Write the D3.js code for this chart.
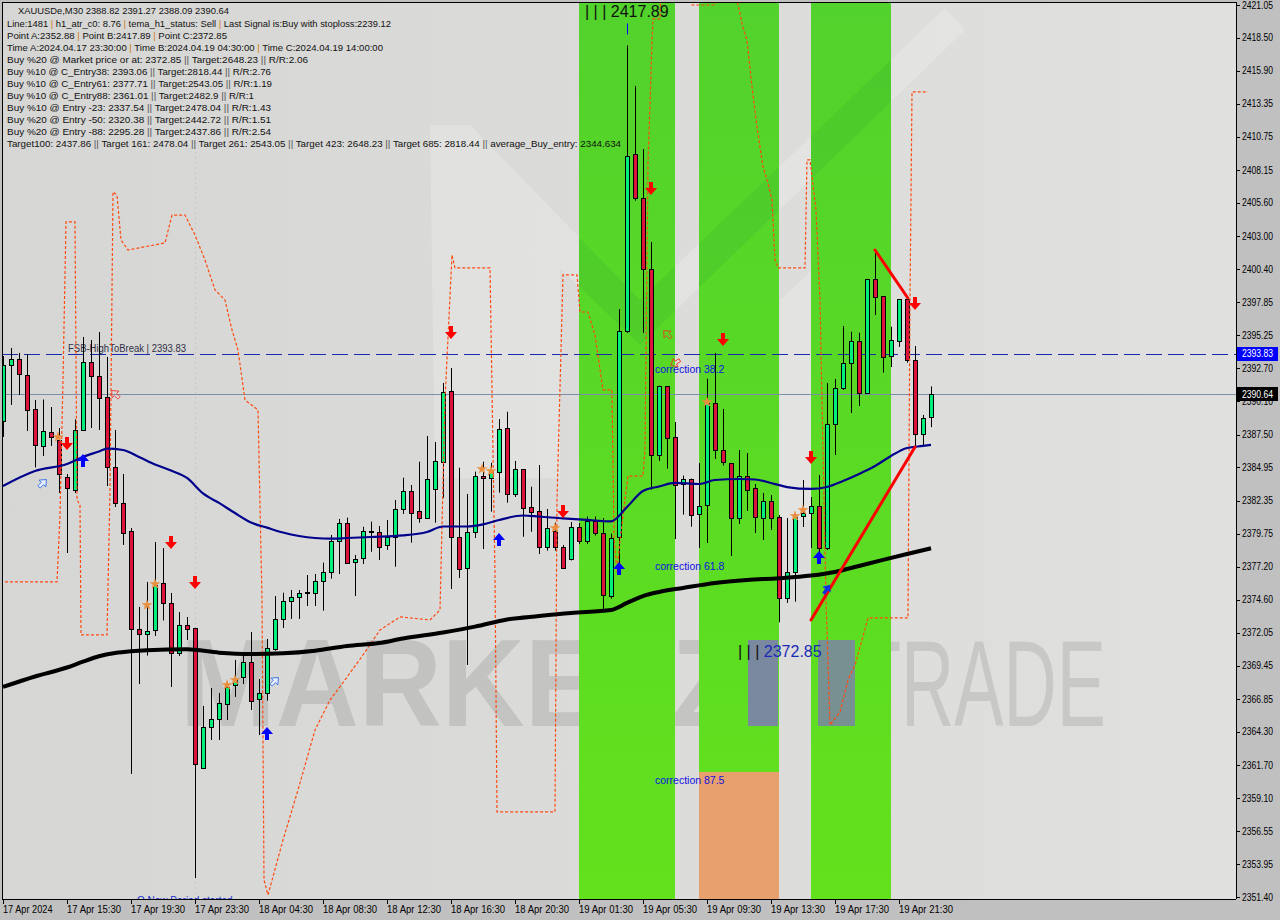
<!DOCTYPE html>
<html><head><meta charset="utf-8"><title>XAUUSDe M30</title>
<script src="https://cdn.jsdelivr.net/npm/d3@7/dist/d3.min.js"></script>
<style>html,body{margin:0;padding:0;background:#c0c0c0;}svg{display:block;}</style>
</head><body>
<svg id="chart" width="1280" height="920"></svg>
<script>
// ================= DATA =================
const timeLabels = ["17 Apr 2024","17 Apr 15:30","17 Apr 19:30","17 Apr 23:30","18 Apr 04:30","18 Apr 08:30","18 Apr 12:30","18 Apr 16:30","18 Apr 20:30","19 Apr 01:30","19 Apr 05:30","19 Apr 09:30","19 Apr 13:30","19 Apr 17:30","19 Apr 21:30"];
const timeLabelIndex = [0,8,16,24,32,40,48,56,64,72,80,88,96,104,112];
const priceTicks = [2421.05,2418.50,2415.90,2413.35,2410.75,2408.15,2405.60,2403.00,2400.40,2397.85,2395.25,2392.70,2390.10,2387.50,2384.95,2382.35,2379.75,2377.20,2374.60,2372.05,2369.45,2366.85,2364.30,2361.70,2359.10,2356.55,2353.95,2351.40];

const opens  = [2388.57,2392.94,2393.37,2392.16,2389.51,2386.58,2387.71,2387.05,2384.22,2383.21,2387.92,2393.21,2392.11,2390.44,2384.94,2382.17,2379.98,2372.36,2371.94,2372.20,2375.92,2374.36,2370.45,2372.60,2372.41,2361.53,2364.70,2365.30,2366.47,2367.96,2368.58,2369.77,2366.86,2367.33,2370.77,2373.11,2374.51,2374.83,2375.14,2375.14,2376.08,2376.78,2379.20,2380.60,2377.56,2377.87,2380.00,2379.92,2378.89,2379.53,2381.70,2383.10,2381.54,2381.00,2383.26,2385.39,2390.91,2379.51,2377.09,2379.90,2384.27,2384.12,2384.61,2388.02,2382.87,2384.82,2381.85,2381.56,2378.73,2380.00,2378.73,2377.83,2380.31,2379.18,2380.73,2379.86,2374.98,2379.53,2395.60,2409.42,2405.98,2400.44,2385.91,2391.27,2387.32,2383.65,2384.07,2381.31,2382.01,2389.99,2386.30,2385.29,2381.00,2384.27,2383.30,2381.05,2382.35,2381.10,2374.75,2376.72,2381.17,2381.41,2381.93,2378.65,2388.33,2391.15,2393.10,2394.82,2390.78,2399.66,2398.33,2393.64,2394.84,2398.09,2393.33,2387.55,2388.82];
const highs  = [2393.64,2394.27,2393.88,2393.80,2390.21,2390.25,2389.66,2388.02,2384.43,2388.69,2395.13,2394.89,2395.52,2393.57,2387.87,2384.43,2380.21,2374.05,2376.00,2379.12,2378.65,2375.14,2373.65,2373.26,2372.41,2366.32,2367.72,2367.33,2368.21,2369.91,2370.48,2372.09,2368.42,2371.55,2374.90,2375.16,2375.37,2375.37,2376.54,2376.62,2377.51,2379.67,2380.92,2381.02,2378.11,2380.31,2380.71,2380.37,2380.84,2382.40,2384.14,2383.57,2385.39,2387.40,2386.93,2391.54,2392.71,2384.92,2382.87,2384.61,2385.39,2385.31,2388.72,2389.29,2385.45,2384.82,2383.44,2385.13,2381.70,2380.63,2378.89,2380.68,2380.60,2381.11,2381.11,2380.99,2379.77,2397.31,2417.89,2414.73,2409.81,2402.54,2391.33,2391.30,2388.49,2384.31,2384.07,2385.29,2391.87,2393.88,2389.51,2385.29,2386.30,2386.07,2383.65,2382.95,2382.79,2381.23,2380.99,2381.38,2383.96,2382.63,2384.35,2391.54,2391.85,2395.99,2395.54,2395.46,2399.66,2401.92,2398.33,2395.93,2398.09,2398.09,2394.42,2389.04,2391.27];
const lows   = [2387.32,2389.82,2390.60,2387.79,2384.94,2385.84,2386.62,2382.95,2378.26,2382.95,2387.86,2388.02,2387.87,2383.49,2381.85,2378.89,2361.01,2368.03,2370.25,2371.78,2372.99,2367.80,2370.22,2371.47,2352.88,2361.47,2363.66,2363.66,2365.22,2367.02,2368.03,2366.00,2364.05,2366.73,2370.63,2372.41,2373.11,2373.11,2374.12,2374.12,2373.76,2376.26,2376.62,2377.48,2374.90,2377.40,2378.36,2377.72,2378.50,2377.19,2381.31,2379.07,2380.63,2380.92,2380.63,2382.56,2375.45,2376.31,2369.52,2379.43,2378.57,2381.49,2382.97,2382.19,2382.63,2379.53,2379.92,2378.18,2378.44,2378.44,2377.01,2377.68,2378.96,2378.96,2379.62,2373.85,2374.69,2376.78,2395.45,2405.77,2395.44,2383.20,2385.45,2384.85,2379.35,2381.26,2380.31,2378.65,2379.04,2385.60,2385.09,2378.03,2380.53,2381.54,2379.82,2379.28,2380.06,2372.85,2374.36,2374.46,2380.29,2378.65,2378.26,2378.50,2385.91,2390.99,2389.19,2389.74,2390.76,2396.84,2392.34,2392.78,2394.35,2393.12,2386.62,2386.62,2388.09];
const closes = [2392.94,2393.37,2392.16,2389.43,2386.70,2387.79,2387.32,2384.43,2383.34,2387.90,2393.21,2392.11,2390.39,2384.94,2382.11,2379.82,2372.36,2371.94,2372.17,2375.73,2374.36,2370.42,2372.61,2372.31,2361.79,2364.70,2365.30,2366.55,2367.82,2368.42,2369.77,2366.73,2367.33,2370.84,2373.11,2374.51,2374.83,2375.14,2375.20,2376.08,2376.78,2379.20,2380.60,2377.51,2377.82,2380.00,2379.92,2378.75,2379.53,2381.70,2383.10,2381.41,2381.00,2384.04,2385.45,2390.83,2379.53,2377.01,2379.90,2384.27,2384.12,2384.61,2387.94,2382.87,2384.82,2381.78,2381.49,2378.73,2380.21,2378.73,2377.11,2380.31,2379.23,2380.73,2379.82,2374.98,2379.47,2395.60,2409.29,2405.98,2400.44,2385.91,2391.33,2387.24,2383.59,2384.04,2381.26,2381.93,2389.99,2386.30,2385.37,2381.00,2384.31,2383.18,2381.03,2382.35,2381.05,2374.75,2376.80,2381.05,2381.41,2381.93,2378.65,2388.33,2391.15,2393.10,2394.82,2390.78,2399.66,2398.25,2393.59,2394.89,2398.09,2393.33,2387.55,2388.80,2390.64];

// moving averages read at bar indices [index, price]
const blueMA = [[0,2383.49],[4,2384.66],[8,2385.21],[10,2385.76],[12,2386.19],[13,2386.41],[15,2386.30],[17,2385.76],[19,2385.17],[21,2384.70],[23,2384.12],[25,2382.91],[27,2382.17],[29,2381.38],[31,2380.64],[33,2380.24],[35,2379.86],[37,2379.59],[39,2379.43],[41,2379.38],[43,2379.43],[46,2379.51],[50,2379.63],[53,2379.90],[55,2380.33],[58,2380.33],[60,2380.49],[62,2380.84],[65,2381.19],[67,2381.11],[70,2380.96],[73,2380.84],[76,2380.73],[78,2381.85],[80,2383.10],[82,2383.45],[84,2383.73],[87,2383.65],[89,2383.96],[92,2384.04],[94,2384.00],[96,2383.73],[98,2383.41],[101,2383.26],[103,2383.41],[105,2383.88],[107,2384.43],[109,2385.05],[111,2385.84],[113,2386.46],[115,2386.62],[116,2386.70]];
const blackMA = [[0,2367.80],[4,2368.62],[8,2369.32],[10,2369.78],[12,2370.20],[14,2370.45],[16,2370.59],[18,2370.67],[23,2370.74],[27,2370.48],[31,2370.38],[35,2370.43],[39,2370.63],[43,2371.00],[47,2371.23],[50,2371.59],[55,2372.06],[59,2372.51],[63,2373.07],[67,2373.34],[71,2373.58],[76,2373.81],[78,2374.36],[80,2374.90],[82,2375.22],[85,2375.53],[89,2375.92],[93,2376.15],[97,2376.29],[101,2376.50],[104,2376.78],[107,2377.25],[110,2377.72],[113,2378.18],[116,2378.63]];
// dashed orange stop line [index, price]
const stopLine = [[-0.375,2376.00],[6.75,2376.00],[7.125,2381.23],[7.5,2391.77],[7.875,2404.11],[9.0,2404.11],[9.25,2382.40],[9.625,2382.01],[9.75,2371.86],[13.0,2371.86],[13.375,2383.18],[13.75,2406.45],[14.25,2406.21],[14.75,2402.70],[15.625,2401.92],[20.25,2402.47],[21.125,2404.65],[22.75,2404.65],[24.0,2403.09],[25.25,2401.14],[26.5,2398.80],[27.75,2398.02],[28.625,2395.67],[29.375,2394.11],[30.25,2390.21],[31.875,2389.43],[32.375,2374.59],[32.625,2352.73],[33.125,2351.56],[35.0,2355.85],[36.875,2359.76],[39.0,2364.44],[40.875,2366.78],[42.75,2368.35],[45.0,2370.30],[47.125,2372.25],[49.625,2373.27],[53.375,2373.03],[54.625,2373.81],[55.25,2390.21],[56.125,2401.53],[56.5,2400.52],[60.875,2400.52],[61.5,2376.54],[61.75,2358.04],[69.0,2358.04],[69.25,2382.40],[70.0,2399.97],[71.75,2399.97],[72.125,2397.08],[73.125,2397.08],[74.0,2395.28],[75.0,2391.00],[76.125,2391.00],[76.375,2379.51],[76.75,2376.78],[77.125,2379.28],[78.125,2384.27],[80.0,2384.27],[80.25,2386.38],[80.625,2408.79],[80.875,2413.24],[81.125,2418.32],[81.25,2419.96],[82.125,2419.96],[82.25,2422.61],[85.875,2422.61],[86.125,2421.05],[89.0,2421.05],[89.125,2422.61],[91.5,2422.61],[91.75,2421.44],[92.5,2419.25],[93.0,2418.32],[93.625,2414.65],[94.25,2411.52],[95.0,2408.40],[95.625,2407.15],[96.125,2405.82],[96.5,2401.14],[96.875,2400.52],[100.25,2400.52],[100.5,2408.95],[100.875,2408.95],[101.625,2405.04],[102.125,2398.02],[102.5,2386.30],[102.875,2374.59],[103.375,2364.83],[104.625,2365.85],[105.625,2368.35],[106.5,2369.52],[107.375,2371.47],[108.125,2373.19],[113.125,2373.19],[113.375,2398.02],[113.625,2414.26],[115.625,2414.26]];

const zones = [[72,84],[87,97],[101,111]];
const pointA = 2352.88, pointB = 2417.89, pointC = 2372.85;
const pointBIndex = 78, pointCIndex = 97;
const corrLabels = ["correction 38.2","correction 61.8","correction 87.5"];
const corrPrices = [2393.06, 2377.71, 2361.01];
const highToBreak = 2393.83, lastPrice = 2390.64;
const triangleLines = [[[109,2401.92],[113.1,2398.17]],[[101,2373.03],[114,2386.54]]];
const downArrows = [[8,2386.77],[21,2379.04],[24,2375.92],[56,2395.44],[70,2381.46],[81,2406.68],[90,2394.89],[101,2385.68],[114,2397.70]];
const upArrows = [[10,2385.52],[33,2364.21],[62,2379.36],[77,2377.09],[102,2377.95]];
const hollowUp = [[5,2383.73],[34,2368.27]];
const tiltedUp = [[103,2375.45]];
const hollowDown = [[14,2390.68],[83,2395.36],[84,2393.10]];
const stars = [[6.875,2387.32],[18,2374.20],[19,2375.84],[28,2367.95],[29,2368.35],[59.875,2384.82],[61,2384.66],[69,2380.21],[88,2390.05],[99,2381.15],[100,2381.62]];

const infoLines = [
"XAUUSDe,M30  2388.82 2391.27 2388.09 2390.64",
"Line:1481 | h1_atr_c0: 8.76 | tema_h1_status: Sell | Last Signal is:Buy with stoploss:2239.12",
"Point A:2352.88 | Point B:2417.89 | Point C:2372.85",
"Time A:2024.04.17 23:30:00 | Time B:2024.04.19 04:30:00 | Time C:2024.04.19 14:00:00",
"Buy %20 @ Market price or at: 2372.85 || Target:2648.23 || R/R:2.06",
"Buy %10 @ C_Entry38: 2393.06 || Target:2818.44 || R/R:2.76",
"Buy %10 @ C_Entry61: 2377.71 || Target:2543.05 || R/R:1.19",
"Buy %10 @ C_Entry88: 2361.01 || Target:2482.9 || R/R:1",
"Buy %10 @ Entry -23: 2337.54 || Target:2478.04 || R/R:1.43",
"Buy %20 @ Entry -50: 2320.38 || Target:2442.72 || R/R:1.51",
"Buy %20 @ Entry -88: 2295.28 || Target:2437.86 || R/R:2.54",
"Target100: 2437.86 || Target 161: 2478.04 || Target 261: 2543.05 || Target 423: 2648.23 || Target 685: 2818.44 || average_Buy_entry: 2344.634"
];

// ================= LAYOUT =================
const FONT = "'Liberation Sans', Arial, sans-serif";
const infoWidths = [211,384,220,376,301,264,265,247,264,264,264,614];
const PL = 2, PR = 1236, PT = 2, PB = 899;

const svg = d3.select('#chart');
const x = d3.scaleLinear().domain([0,116]).range([3,931]);
const y = d3.scaleLinear().domain([2351.40,2421.05]).range([897,5]);

svg.append('rect').attr('width',1280).attr('height',920).attr('fill','#c0c0c0');
const defs = svg.append('defs');
defs.append('clipPath').attr('id','plotClip').append('rect')
  .attr('x',PL).attr('y',PT).attr('width',PR-PL).attr('height',PB-PT);
const gg = defs.append('linearGradient').attr('id','zoneGrad').attr('x1',0).attr('y1',0).attr('x2',0).attr('y2',1);
gg.append('stop').attr('offset','0%').attr('stop-color','#52d22c');
gg.append('stop').attr('offset','100%').attr('stop-color','#62e21c');
const bg = defs.append('linearGradient').attr('id','bgGrad').attr('x1',0).attr('y1',0).attr('x2',1).attr('y2',0);
bg.append('stop').attr('offset','0%').attr('stop-color','#d6d6d4');
bg.append('stop').attr('offset','100%').attr('stop-color','#e0e0de');

const plot = svg.append('g').attr('clip-path','url(#plotClip)');
plot.append('rect').attr('x',PL).attr('y',PT).attr('width',PR-PL).attr('height',PB-PT).attr('fill','url(#bgGrad)');

// faint logo watermark shapes
const logoPath = 'M430,125 L470,125 L640,300 L945,8 L965,30 L640,345 L560,268 L560,478 L435,478 Z';
const logo = plot.append('g').attr('fill','#ffffff').attr('opacity',0.2);
logo.append('path').attr('d',logoPath);
logo.append('path').attr('d','M780,300 L850,235 L850,520 L780,520 Z');

// day separators
plot.selectAll('line.sep').data([24,72]).join('line')
  .attr('x1',d=>Math.round(x(d))+0.5).attr('x2',d=>Math.round(x(d))+0.5)
  .attr('y1',PT).attr('y2',PB).attr('stroke','#c8c8c8').attr('stroke-dasharray','2,3');

// big watermark text (under zones); font sized to its natural width, stretched vertically
plot.append('text').attr('transform','translate(180,726) scale(1,1.08)').attr('font-family',FONT).attr('font-weight','bold')
  .attr('font-size',115).attr('textLength',562).attr('lengthAdjust','spacingAndGlyphs')
  .attr('fill','#8a8a8a').attr('opacity',0.28).text('MARKETZ');
plot.append('text').attr('transform','translate(856,726) scale(1,1.65)').attr('font-family',FONT)
  .attr('font-size',74).attr('textLength',250).attr('lengthAdjust','spacingAndGlyphs')
  .attr('fill','#a0a0a0').attr('opacity',0.35).text('TRADE');

// zones
plot.selectAll('rect.zone').data(zones).join('rect')
  .attr('x',d=>x(d[0])).attr('width',d=>x(d[1])-x(d[0]))
  .attr('y',PT).attr('height',PB-PT).attr('fill','url(#zoneGrad)');
const zc = defs.append('clipPath').attr('id','zclip');
zones.forEach(d=>zc.append('rect').attr('x',x(d[0])).attr('width',x(d[1])-x(d[0])).attr('y',PT).attr('height',PB-PT));
plot.append('g').attr('clip-path','url(#zclip)').append('path')
  .attr('d',logoPath).attr('fill','#1f8a3a').attr('opacity',0.12);
// salmon correction 87.5 box in zone 2
plot.append('rect').attr('x',x(zones[1][0])).attr('width',x(zones[1][1])-x(zones[1][0]))
  .attr('y',y(corrPrices[2])-2).attr('height',PB-y(corrPrices[2])+2).attr('fill','#e8a06c');
// watermark glyph pieces drawn over zones
plot.append('rect').attr('x',748).attr('y',640).attr('width',30).attr('height',86).attr('fill','#7a88a0');
plot.append('rect').attr('x',818).attr('y',640).attr('width',37).attr('height',86).attr('fill','#7a88a0').attr('opacity',0.9);

// horizontal level lines
plot.append('line').attr('x1',PL).attr('x2',PR).attr('y1',Math.round(y(lastPrice))+0.5).attr('y2',Math.round(y(lastPrice))+0.5)
  .attr('stroke','#7d8fa8').attr('stroke-width',1);
plot.append('line').attr('x1',PL).attr('x2',PR).attr('y1',Math.round(y(highToBreak))+0.5).attr('y2',Math.round(y(highToBreak))+0.5)
  .attr('stroke','#1a2ab0').attr('stroke-width',1).attr('stroke-dasharray','16,6');
plot.append('text').attr('x',68).attr('y',y(highToBreak)-2).attr('font-family',FONT).attr('font-size',10)
  .attr('textLength',118).attr('lengthAdjust','spacingAndGlyphs').attr('fill','#303048')
  .text('FSB-HighToBreak | 2393.83');

// candles
const idx = d3.range(opens.length);
const cg = plot.append('g');
cg.selectAll('line.wick').data(idx).join('line')
  .attr('x1',i=>Math.round(x(i))+0.5).attr('x2',i=>Math.round(x(i))+0.5)
  .attr('y1',i=>y(highs[i])).attr('y2',i=>y(lows[i])).attr('stroke','#000').attr('stroke-width',1);
cg.selectAll('rect.body').data(idx).join('rect')
  .attr('x',i=>Math.round(x(i))-1.5).attr('width',4)
  .attr('y',i=>Math.round(y(Math.max(opens[i],closes[i])))+0.5)
  .attr('height',i=>Math.max(1,Math.round(Math.abs(y(opens[i])-y(closes[i])))))
  .attr('fill',i=>closes[i]>=opens[i]?'#00ee7a':'#dc143c')
  .attr('stroke','#000').attr('stroke-width',1);

// stop line
const lineGen = d3.line().x(d=>x(d[0])).y(d=>y(d[1]));
plot.append('path').attr('d',lineGen(stopLine)).attr('fill','none')
  .attr('stroke','#ff4a10').attr('stroke-width',1.2).attr('stroke-dasharray','3,2');

// moving averages
const maGen = d3.line().x(d=>x(d[0])).y(d=>y(d[1])).curve(d3.curveMonotoneX);
plot.append('path').attr('d',maGen(blackMA)).attr('fill','none').attr('stroke','#000').attr('stroke-width',4);
plot.append('path').attr('d',maGen(blueMA)).attr('fill','none').attr('stroke','#00008c').attr('stroke-width',2.2);

// triangle lines
plot.selectAll('line.tri').data(triangleLines).join('line')
  .attr('x1',d=>x(d[0][0])).attr('y1',d=>y(d[0][1])).attr('x2',d=>x(d[1][0])).attr('y2',d=>y(d[1][1]))
  .attr('stroke','#ff0000').attr('stroke-width',3).attr('stroke-linecap','round');

// arrows
const downPath = 'M-2,-7 h4 v6 h4 l-6,7 l-6,-7 h4 z';
const upPath = 'M-2,7 h4 v-6 h4 l-6,-7 l-6,7 h4 z';
plot.selectAll('path.da').data(downArrows).join('path').attr('d',downPath)
  .attr('transform',d=>`translate(${x(d[0])},${y(d[1])})`).attr('fill','#ff0000');
plot.selectAll('path.ua').data(upArrows).join('path').attr('d',upPath)
  .attr('transform',d=>`translate(${x(d[0])},${y(d[1])})`).attr('fill','#0000ff');
plot.selectAll('path.hu').data(hollowUp).join('path').attr('d',upPath)
  .attr('transform',d=>`translate(${x(d[0])},${y(d[1])}) rotate(45) scale(0.8)`)
  .attr('fill','#e8f0ff').attr('stroke','#2060e0').attr('stroke-width',1);
plot.selectAll('path.tu').data(tiltedUp).join('path').attr('d',upPath)
  .attr('transform',d=>`translate(${x(d[0])},${y(d[1])}) rotate(35) scale(0.85)`)
  .attr('fill','#1030e0');
plot.selectAll('path.hd').data(hollowDown).join('path').attr('d',upPath)
  .attr('transform',(d,k)=>`translate(${x(d[0])},${y(d[1])}) rotate(${k===2?-120:-45}) scale(0.8)`)
  .attr('fill','none').attr('stroke','#f03020').attr('stroke-width',1);
plot.selectAll('path.st').data(stars).join('path').attr('d',d3.symbol(d3.symbolStar,38)())
  .attr('transform',d=>`translate(${x(d[0])},${y(d[1])})`).attr('fill','#e89040');

// point labels
plot.append('line').attr('x1',Math.round(x(pointBIndex))+0.5).attr('x2',Math.round(x(pointBIndex))+0.5)
  .attr('y1',y(pointB)-22).attr('y2',y(pointB)-11).attr('stroke','#0000ff').attr('stroke-width',1);
plot.append('text').attr('x',585).attr('y',y(pointB)-28).attr('font-family',FONT).attr('font-size',16)
  .attr('fill','#101010').text('| | | ' + pointB.toFixed(2));
const cl = plot.append('text').attr('x',738).attr('y',y(pointC)+35).attr('font-family',FONT).attr('font-size',16);
cl.append('tspan').attr('fill','#101010').text('| | | ');
cl.append('tspan').attr('fill','#1a2ab8').text(pointC.toFixed(2));
plot.selectAll('text.corr').data(corrLabels).join('text')
  .attr('x',655).attr('y',(d,k)=>y(corrPrices[k])+10).attr('font-family',FONT).attr('font-size',10.5)
  .attr('fill','#1010e0').text(d=>d);

// bottom blue clipped text
plot.append('text').attr('x',137).attr('y',904).attr('font-family',FONT).attr('font-size',10)
  .attr('fill','#2030d0').text('O New Period started');

// info text block
const info = svg.append('g').attr('font-family',FONT).attr('font-size',9.5);
infoLines.forEach((ln,k)=>{
  const t = info.append('text').attr('x',k===0?18:7).attr('y',k===0?14:27+12*(k-1))
    .attr('textLength',infoWidths[k]).attr('lengthAdjust','spacingAndGlyphs').attr('fill','#111');
  const parts = ln.split(/(\|+)/);
  parts.forEach(p=>{
    if(!p) return;
    const isPipe = /^\|+$/.test(p);
    t.append('tspan').attr('fill', isPipe ? (p.length===1 ? '#d07820' : '#555') : '#111').text(p);
  });
});

// axes
svg.append('line').attr('x1',PR+0.5).attr('x2',PR+0.5).attr('y1',PT).attr('y2',PB).attr('stroke','#000');
svg.append('line').attr('x1',PL).attr('x2',PR).attr('y1',PB+0.5).attr('y2',PB+0.5).attr('stroke','#000');
svg.append('line').attr('x1',PL+0.5).attr('x2',PL+0.5).attr('y1',PT).attr('y2',PB).attr('stroke','#000');
svg.append('line').attr('x1',PL).attr('x2',PR).attr('y1',PT+0.5).attr('y2',PT+0.5).attr('stroke','#000');

const yAxis = svg.append('g');
yAxis.selectAll('line').data(priceTicks).join('line')
  .attr('x1',PR).attr('x2',PR+4).attr('y1',d=>Math.round(y(d))+0.5).attr('y2',d=>Math.round(y(d))+0.5).attr('stroke','#000');
yAxis.selectAll('text').data(priceTicks).join('text')
  .attr('x',PR+6).attr('y',d=>y(d)+3.5).attr('font-family',FONT).attr('font-size',10)
  .attr('textLength',31).attr('lengthAdjust','spacingAndGlyphs').attr('fill','#000').text(d=>d.toFixed(2));

// price boxes
[[highToBreak,'#0000ff'],[lastPrice,'#000000']].forEach(([p,c])=>{
  svg.append('rect').attr('x',PR+1).attr('y',Math.round(y(p))-7).attr('width',41).attr('height',14).attr('fill',c);
  svg.append('text').attr('x',PR+6).attr('y',y(p)+3.5).attr('font-family',FONT).attr('font-size',10)
    .attr('textLength',31).attr('lengthAdjust','spacingAndGlyphs').attr('fill','#fff').text(p.toFixed(2));
});

const xAxis = svg.append('g');
xAxis.selectAll('line').data(timeLabelIndex).join('line')
  .attr('x1',d=>Math.round(x(d))+0.5).attr('x2',d=>Math.round(x(d))+0.5).attr('y1',PB).attr('y2',PB+5).attr('stroke','#000');
xAxis.selectAll('text').data(timeLabels).join('text')
  .attr('x',(d,k)=>x(timeLabelIndex[k])).attr('y',913).attr('font-family',FONT).attr('font-size',10)
  .attr('textLength',d=>d.length*4.5).attr('lengthAdjust','spacingAndGlyphs').attr('fill','#000').text(d=>d);
</script>
</body></html>
